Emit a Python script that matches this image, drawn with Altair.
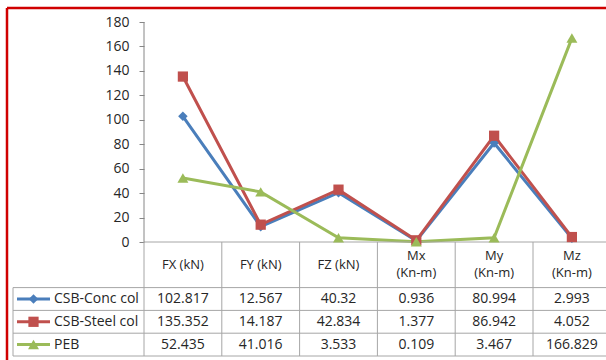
import altair as alt
import pandas as pd

# ---- data ----
categories = ["FX (kN)", "FY (kN)", "FZ (kN)", "Mx\n(Kn-m)", "My\n(Kn-m)", "Mz\n(Kn-m)"]
series_names = ["CSB-Conc col", "CSB-Steel col", "PEB"]
conc_col = [102.817, 12.567, 40.32, 0.936, 80.994, 2.993]
steel_col = [135.352, 14.187, 42.834, 1.377, 86.942, 4.052]
peb = [52.435, 41.016, 3.533, 0.109, 3.467, 166.829]
value_labels = {
    "CSB-Conc col": ["102.817", "12.567", "40.32", "0.936", "80.994", "2.993"],
    "CSB-Steel col": ["135.352", "14.187", "42.834", "1.377", "86.942", "4.052"],
    "PEB": ["52.435", "41.016", "3.533", "0.109", "3.467", "166.829"],
}
y_ticks = [0, 20, 40, 60, 80, 100, 120, 140, 160, 180]

colors = ["#4A7EBB", "#C0504D", "#9BBB59"]
shapes = ["diamond", "square", "triangle-up"]
sizes = [90, 120, 130]

FONT = "Open Sans"
GRID = "#A6A6A6"
TEXT = "#262626"

# ---- layout (pixels) ----
W, H = 599, 352          # plot area (frame) size
AXIS_X = 137             # y-axis position inside the frame
COL_W = 77.8             # width of one category column
Y0_PX = 234              # pixel row of value 0 inside the frame
PX_PER_UNIT = 220 / 180  # vertical scale of the value axis
ROW_PX = 22.8            # table row height

def xu(px):
    """frame pixel -> column units (0 = value axis)"""
    return (px - AXIS_X) / COL_W

x_dom = [xu(0), xu(W)]
y_dom = [-(H - Y0_PX) / PX_PER_UNIT, Y0_PX / PX_PER_UNIT]
r_dom = [-Y0_PX / ROW_PX, (H - Y0_PX) / ROW_PX]

x_scale = alt.Scale(domain=x_dom, nice=False, zero=False)
y_scale = alt.Scale(domain=y_dom, nice=False, zero=False)
r_scale = alt.Scale(domain=r_dom, nice=False, zero=False, reverse=True)

X_NONE = dict(scale=x_scale, axis=None)

# ---- long table of series values ----
rows = []
for s, vals in zip(series_names, [conc_col, steel_col, peb]):
    for i, v in enumerate(vals):
        rows.append({"series": s, "idx": i + 0.5, "value": v})
df = pd.DataFrame(rows)

color_enc = alt.Color("series:N", scale=alt.Scale(domain=series_names, range=colors), legend=None)
shape_enc = alt.Shape("series:N", scale=alt.Scale(domain=series_names, range=shapes), legend=None)
size_enc = alt.Size("series:N", scale=alt.Scale(domain=series_names, range=sizes), legend=None)

base = alt.Chart(df)

lines = base.mark_line(strokeWidth=3).encode(
    x=alt.X("idx:Q", **X_NONE),
    y=alt.Y("value:Q", scale=y_scale,
            axis=alt.Axis(orient="left", values=y_ticks, offset=-AXIS_X, domain=False,
                          grid=False, tickSize=5, tickColor="#868686", labelPadding=10,
                          labelFont=FONT, labelFontSize=14, labelColor=TEXT,
                          title=None)),
    color=color_enc,
    detail="series:N",
)
points = base.mark_point(filled=True, opacity=1).encode(
    x=alt.X("idx:Q", **X_NONE),
    y=alt.Y("value:Q", scale=y_scale, axis=None),
    color=color_enc, shape=shape_enc, size=size_enc,
)

# value-axis line
axis_line = alt.Chart(pd.DataFrame({"x": [0], "y": [0], "y2": [180]})).mark_rule(
    color="#868686", strokeWidth=1).encode(
    x=alt.X("x:Q", **X_NONE),
    y=alt.Y("y:Q", scale=y_scale, axis=None), y2="y2:Q")

# ---- data table below the plot ----
legend_left = xu(6)
hlines = pd.DataFrame({
    "r": [0, 2, 3, 4, 5],
    "x1": [0, legend_left, legend_left, legend_left, legend_left],
    "x2": [6, 6, 6, 6, 6],
})
vlines = pd.DataFrame({
    "x": [legend_left] + list(range(0, 7)),
    "r1": [2] + [0] * 7,
    "r2": [5] * 8,
})
h_rules = alt.Chart(hlines).mark_rule(color=GRID, strokeWidth=1).encode(
    x=alt.X("x1:Q", **X_NONE), x2="x2:Q",
    y=alt.Y("r:Q", scale=r_scale, axis=None))
v_rules = alt.Chart(vlines).mark_rule(color=GRID, strokeWidth=1).encode(
    x=alt.X("x:Q", **X_NONE),
    y=alt.Y("r1:Q", scale=r_scale, axis=None), y2="r2:Q")

hdr_df = pd.DataFrame({"idx": [i + 0.5 for i in range(6)], "r": [1.0] * 6,
                       "label": categories,
                       "two": ["\n" in c for c in categories]})
hdr_style = dict(font=FONT, fontSize=13, color=TEXT, lineBreak="\n", lineHeight=17,
                 align="center", baseline="middle")
header_one = alt.Chart(hdr_df).transform_filter("!datum.two").mark_text(**hdr_style).encode(
    x=alt.X("idx:Q", **X_NONE),
    y=alt.Y("r:Q", scale=r_scale, axis=None), text="label:N")
header_two = alt.Chart(hdr_df).transform_filter("datum.two").mark_text(dy=-8.5, **hdr_style).encode(
    x=alt.X("idx:Q", **X_NONE),
    y=alt.Y("r:Q", scale=r_scale, axis=None), text="label:N")

cell_rows = []
for k, s in enumerate(series_names):
    for i, t in enumerate(value_labels[s]):
        cell_rows.append({"idx": i + 0.5, "r": 2.5 + k, "label": t})
cells = alt.Chart(pd.DataFrame(cell_rows)).mark_text(
    font=FONT, fontSize=14, color=TEXT, align="center", baseline="middle").encode(
    x=alt.X("idx:Q", **X_NONE),
    y=alt.Y("r:Q", scale=r_scale, axis=None), text="label:N")

# legend keys inside the table
key_df = pd.DataFrame({
    "series": series_names,
    "r": [2.5, 3.5, 4.5],
    "x1": [xu(10)] * 3, "x2": [xu(43)] * 3, "xm": [xu(26.5)] * 3, "xt": [xu(47)] * 3,
})
key_lines = alt.Chart(key_df).mark_rule(strokeWidth=3).encode(
    x=alt.X("x1:Q", **X_NONE), x2="x2:Q",
    y=alt.Y("r:Q", scale=r_scale, axis=None), color=color_enc)
key_pts = alt.Chart(key_df).mark_point(filled=True, opacity=1).encode(
    x=alt.X("xm:Q", **X_NONE),
    y=alt.Y("r:Q", scale=r_scale, axis=None),
    color=color_enc, shape=shape_enc, size=size_enc)
key_text = alt.Chart(key_df).mark_text(
    font=FONT, fontSize=14, color=TEXT, align="left", baseline="middle").encode(
    x=alt.X("xt:Q", **X_NONE),
    y=alt.Y("r:Q", scale=r_scale, axis=None), text="series:N")

# red frame (left and top edges)
frame_left = alt.Chart(pd.DataFrame({"a": [0]})).mark_rule(color="#D00000", strokeWidth=2.5).encode(
    x=alt.value(0), y=alt.value(0), y2=alt.value(H))
frame_top = alt.Chart(pd.DataFrame({"a": [0]})).mark_rule(color="#D00000", strokeWidth=2.5).encode(
    y=alt.value(0), x=alt.value(0), x2=alt.value(W))

chart = alt.layer(
    lines, h_rules, v_rules, header_one, header_two, cells, key_lines, key_pts, key_text,
    axis_line, points, frame_left, frame_top,
).resolve_scale(y="independent").properties(
    width=W, height=H,
    autosize=alt.AutoSizeParams(type="none"),
    padding={"left": 7, "top": 8, "right": 0, "bottom": 0},
    background="white",
).configure_view(stroke=None)

chart.save("out.html", embed_options={"renderer": "svg", "actions": False})
